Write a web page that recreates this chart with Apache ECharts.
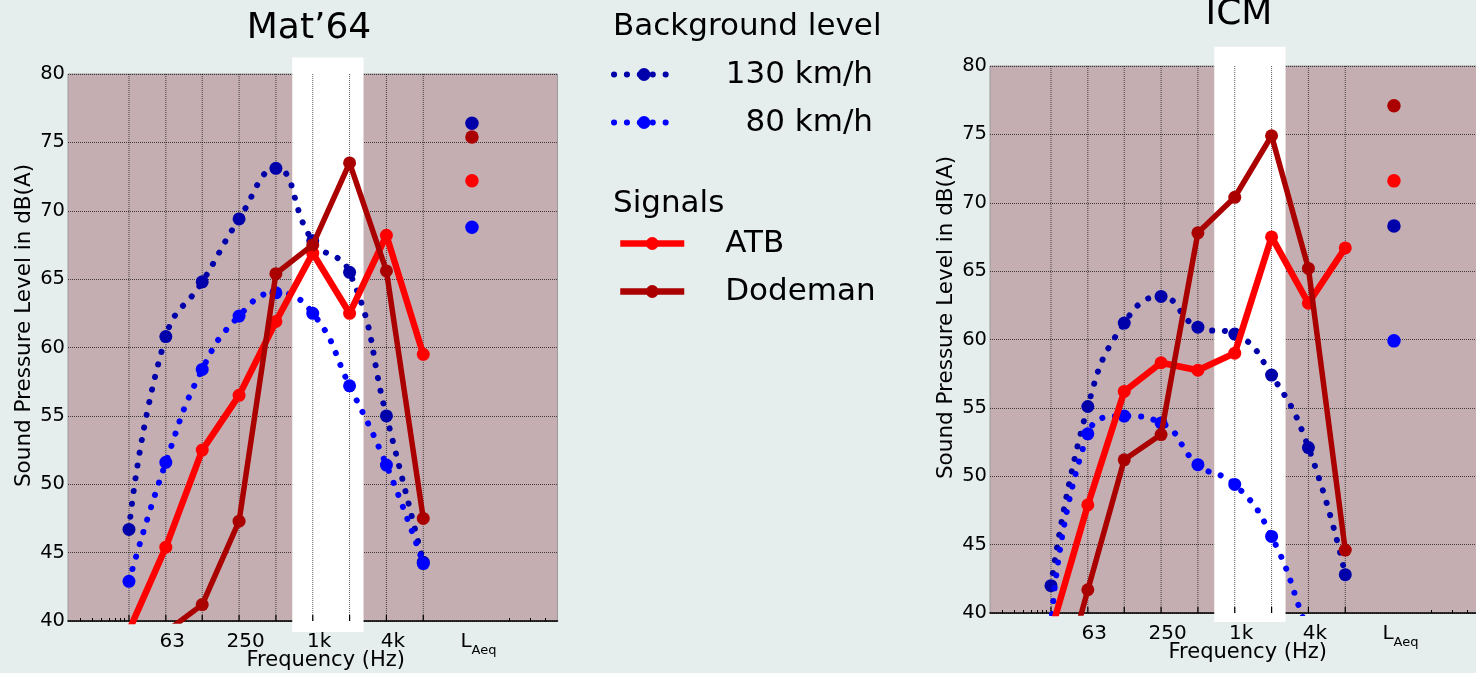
<!DOCTYPE html>
<html><head><meta charset="utf-8">
<script src="https://cdn.jsdelivr.net/npm/echarts@6/dist/echarts.min.js"></script>
<style>html,body{margin:0;padding:0;background:#e5eded;} #c{width:1476px;height:673px;}</style>
</head><body><div id="c"></div>
<script>
// ---- data ----
const bandHz = [31.5, 63, 125, 250, 500, 1000, 2000, 4000, 8000];
const laeqHz = 20000;
const tickLabels = ['63', '250', '1k', '4k', 'LAeq'];
const tickLabelHz = [63, 250, 1000, 4000, 20000];
const minorTickHz = [12.7, 15.8, 18.8, 21.6, 24.2, 26.6, 28.9, 40000, 60000, 80000];
const highlightHz = [680, 2600];
const seriesNames = ['130 km/h', '  80 km/h', 'ATB', 'Dodeman'];

// Mat'64
const mat130 = [46.7, 60.8, 64.8, 69.4, 73.1, 67.8, 65.5, 55.0, 44.3];
const mat80  = [42.9, 51.6, 58.4, 62.3, 64.0, 62.5, 57.2, 51.4, 44.2];
const matAtb = [39.3, 45.4, 52.5, 56.5, 61.9, 66.9, 62.5, 68.2, 59.5];
const matDod = [33.0, 39.2, 41.2, 47.3, 65.4, 67.5, 73.5, 65.6, 47.5];
const matLaeq = [76.4, 68.8, 72.2, 75.4];

// ICM
const icm130 = [42.0, 55.1, 61.2, 63.15, 60.9, 60.4, 57.4, 52.1, 42.8];
const icm80  = [39.0, 53.1, 54.4, 53.9, 50.85, 49.4, 45.6, 38.6, 32.0];
const icmAtb = [38.65, 47.9, 56.2, 58.3, 57.75, 59.0, 67.5, 62.65, 66.7];
const icmDod = [31.8, 41.7, 51.2, 53.05, 67.8, 70.4, 74.9, 65.2, 44.6];
const icmLaeq = [68.3, 59.9, 71.6, 77.1];

// ---- style ----
const FONT = 'DejaVu Sans';
const colors = ['#0000aa', '#0000ff', '#ff0000', '#aa0000'];
const oct = f => Math.log2(f / 1000);

const gridBase = {width: 489.5, height: 547, backgroundColor: '#c5aeb2', show: true, borderColor: '#9a9a9a', borderWidth: 1, containLabel: false, outerBoundsMode: 'none'};
const grids = [
  Object.assign({left: 68, top: 74}, gridBase),
  Object.assign({left: 990, top: 66}, gridBase)
];
const bandY = [[39.2, 81.2], [39.35, 81.4]];
const panels = [
  {lines: [mat130, mat80, matAtb, matDod], laeq: matLaeq},
  {lines: [icm130, icm80, icmAtb, icmDod], laeq: icmLaeq}
];

function labelFmt(v) {
  let best = 0, bd = 1e9;
  tickLabelHz.forEach((f, i) => { const d = Math.abs(oct(f) - v); if (d < bd) { bd = d; best = i; } });
  const t = tickLabels[best];
  if (t === 'LAeq') return '{n|L}{s|Aeq}';
  return '{n|' + t + '}';
}

const xAxes = [0, 1].map(g => ({
  type: 'value', gridIndex: g, min: oct(10), max: oct(100000),
  axisLine: {show: true, onZero: false, lineStyle: {color: '#000', width: 1.5}},
  axisTick: {show: true, inside: true, length: 3, customValues: minorTickHz.map(oct), lineStyle: {color: '#000', width: 1}},
  splitLine: {show: false},
  axisLabel: {
    customValues: tickLabelHz.map(oct), formatter: labelFmt, margin: 5, color: '#000',
    fontFamily: FONT, fontSize: 20,
    rich: {
      n: {fontFamily: FONT, fontSize: 20, lineHeight: 31, color: '#000', verticalAlign: 'middle'},
      s: {fontFamily: FONT, fontSize: 13, lineHeight: 13, color: '#000', padding: [18, 0, 0, 0], verticalAlign: 'middle'}
    },
    padding: [0, 0, 0, 13]
  },
  name: 'Frequency (Hz)', nameLocation: 'middle', nameGap: 29, nameMoveOverlap: false,
  nameTextStyle: {fontFamily: FONT, fontSize: 21, color: '#000', padding: [0, 0, 0, 26]}
}));

const yAxes = [0, 1].map(g => ({
  type: 'value', gridIndex: g, min: 40, max: 80, interval: 5,
  axisLine: {show: true, lineStyle: {color: '#000', width: 1.5}},
  axisTick: {show: true, length: 4, lineStyle: {color: '#000'}},
  axisLabel: {fontFamily: FONT, fontSize: 19.5, color: '#000', margin: 3},
  splitLine: {show: true, lineStyle: {color: 'rgba(0,0,0,0.68)', type: [1, 1], width: 1}},
  name: 'Sound Pressure Level in dB(A)', nameLocation: 'middle', nameGap: 33, nameMoveOverlap: false,
  nameTextStyle: {fontFamily: FONT, fontSize: 21.5, color: '#000', padding: [0, 0, 0, 44]}
}));

const series = [];
[0, 1].forEach(g => {
  // white highlight band
  series.push({
    type: 'custom', xAxisIndex: g, yAxisIndex: g, z: 1, clip: false, silent: true,
    encode: {x: [0, 1], y: [2, 3]},
    data: [[oct(highlightHz[0]), oct(highlightHz[1]), bandY[g][0], bandY[g][1]]],
    renderItem: (params, api) => {
      const p0 = api.coord([api.value(0), api.value(3)]);
      const p1 = api.coord([api.value(1), api.value(2)]);
      return {type: 'rect', shape: {x: p0[0], y: p0[1], width: p1[0] - p0[0], height: p1[1] - p0[1]}, style: {fill: '#ffffff'}};
    }
  });
  // vertical octave grid lines
  series.push({
    type: 'custom', xAxisIndex: g, yAxisIndex: g, z: 1.5, clip: false, silent: true,
    encode: {x: 0, y: [1, 2]},
    data: bandHz.map(f => [oct(f), 40, 80]),
    renderItem: (params, api) => {
      const a = api.coord([api.value(0), api.value(1)]);
      const b = api.coord([api.value(0), api.value(2)]);
      return {type: 'group', children: [
        {type: 'line', shape: {x1: a[0], y1: a[1], x2: b[0], y2: b[1]}, style: {stroke: 'rgba(0,0,0,0.65)', lineWidth: 1, lineDash: [1, 1]}},
        {type: 'line', shape: {x1: a[0], y1: a[1], x2: a[0], y2: a[1] - 6}, style: {stroke: '#000', lineWidth: 1.2}}
      ]};
    }
  });
  const P = panels[g];
  P.lines.forEach((ys, k) => {
    const dotted = k < 2;
    series.push({
      type: 'line', name: seriesNames[k], xAxisIndex: g, yAxisIndex: g, z: 3 + k,
      data: bandHz.map((f, i) => [oct(f), ys[i]]),
      smooth: dotted ? 0.5 : false,
      symbol: 'circle', symbolSize: 13, showSymbol: true,
      itemStyle: {color: colors[k], opacity: 1},
      lineStyle: dotted
        ? {color: colors[k], width: 6, type: [0.1, 12.8], cap: 'round'}
        : {color: colors[k], width: k === 2 ? 6.5 : 5.5, cap: 'butt', join: 'round'},
      emphasis: {disabled: true}, animation: false
    });
  });
  P.laeq.forEach((v, k) => {
    series.push({
      type: 'scatter', name: seriesNames[k], xAxisIndex: g, yAxisIndex: g, z: 3 + k,
      data: [[oct(laeqHz), v]], symbol: 'circle', symbolSize: 13.5,
      itemStyle: {color: colors[k], opacity: 1}, emphasis: {disabled: true}
    });
  });
});

const option = {
  backgroundColor: '#e5eded',
  animation: false,
  grid: grids,
  xAxis: xAxes,
  yAxis: yAxes,
  title: [
    {text: 'Mat\u201964', left: 304, top: 6, textAlign: 'center', textStyle: {fontFamily: FONT, fontSize: 36, fontWeight: 'normal', color: '#000'}},
    {text: 'ICM', left: 1234, top: -8, textAlign: 'center', textStyle: {fontFamily: FONT, fontSize: 36, fontWeight: 'normal', color: '#000'}},
    {text: 'Background level', left: 608, top: 6, textStyle: {fontFamily: FONT, fontSize: 31, fontWeight: 'normal', color: '#000'}},
    {text: 'Signals', left: 608, top: 183, textStyle: {fontFamily: FONT, fontSize: 31, fontWeight: 'normal', color: '#000'}}
  ],
  legend: [
    {
      data: [seriesNames[0], seriesNames[1]], orient: 'vertical', left: 606, top: 54,
      itemWidth: 60, itemHeight: 16, itemGap: 17, selectedMode: false,
      lineStyle: {width: 6},
      formatter: n => '{r|' + n + '}',
      textStyle: {fontFamily: FONT, fontSize: 31, color: '#000', rich: {r: {fontFamily: FONT, fontSize: 31, color: '#000', width: 194, align: 'right'}}}
    },
    {
      data: [seriesNames[2], seriesNames[3]], orient: 'vertical', left: 612, top: 223,
      itemWidth: 64, itemHeight: 16, itemGap: 17, selectedMode: false,
      lineStyle: {width: 6.5},
      formatter: n => '{r|' + n + '}',
      textStyle: {fontFamily: FONT, fontSize: 31, color: '#000', rich: {r: {fontFamily: FONT, fontSize: 31, color: '#000', padding: [0, 0, 0, 36]}}}
    }
  ],
  series: series
};

const chart = echarts.init(document.getElementById('c'), null, {renderer: 'canvas'});
chart.setOption(option);
</script>
</body></html>
